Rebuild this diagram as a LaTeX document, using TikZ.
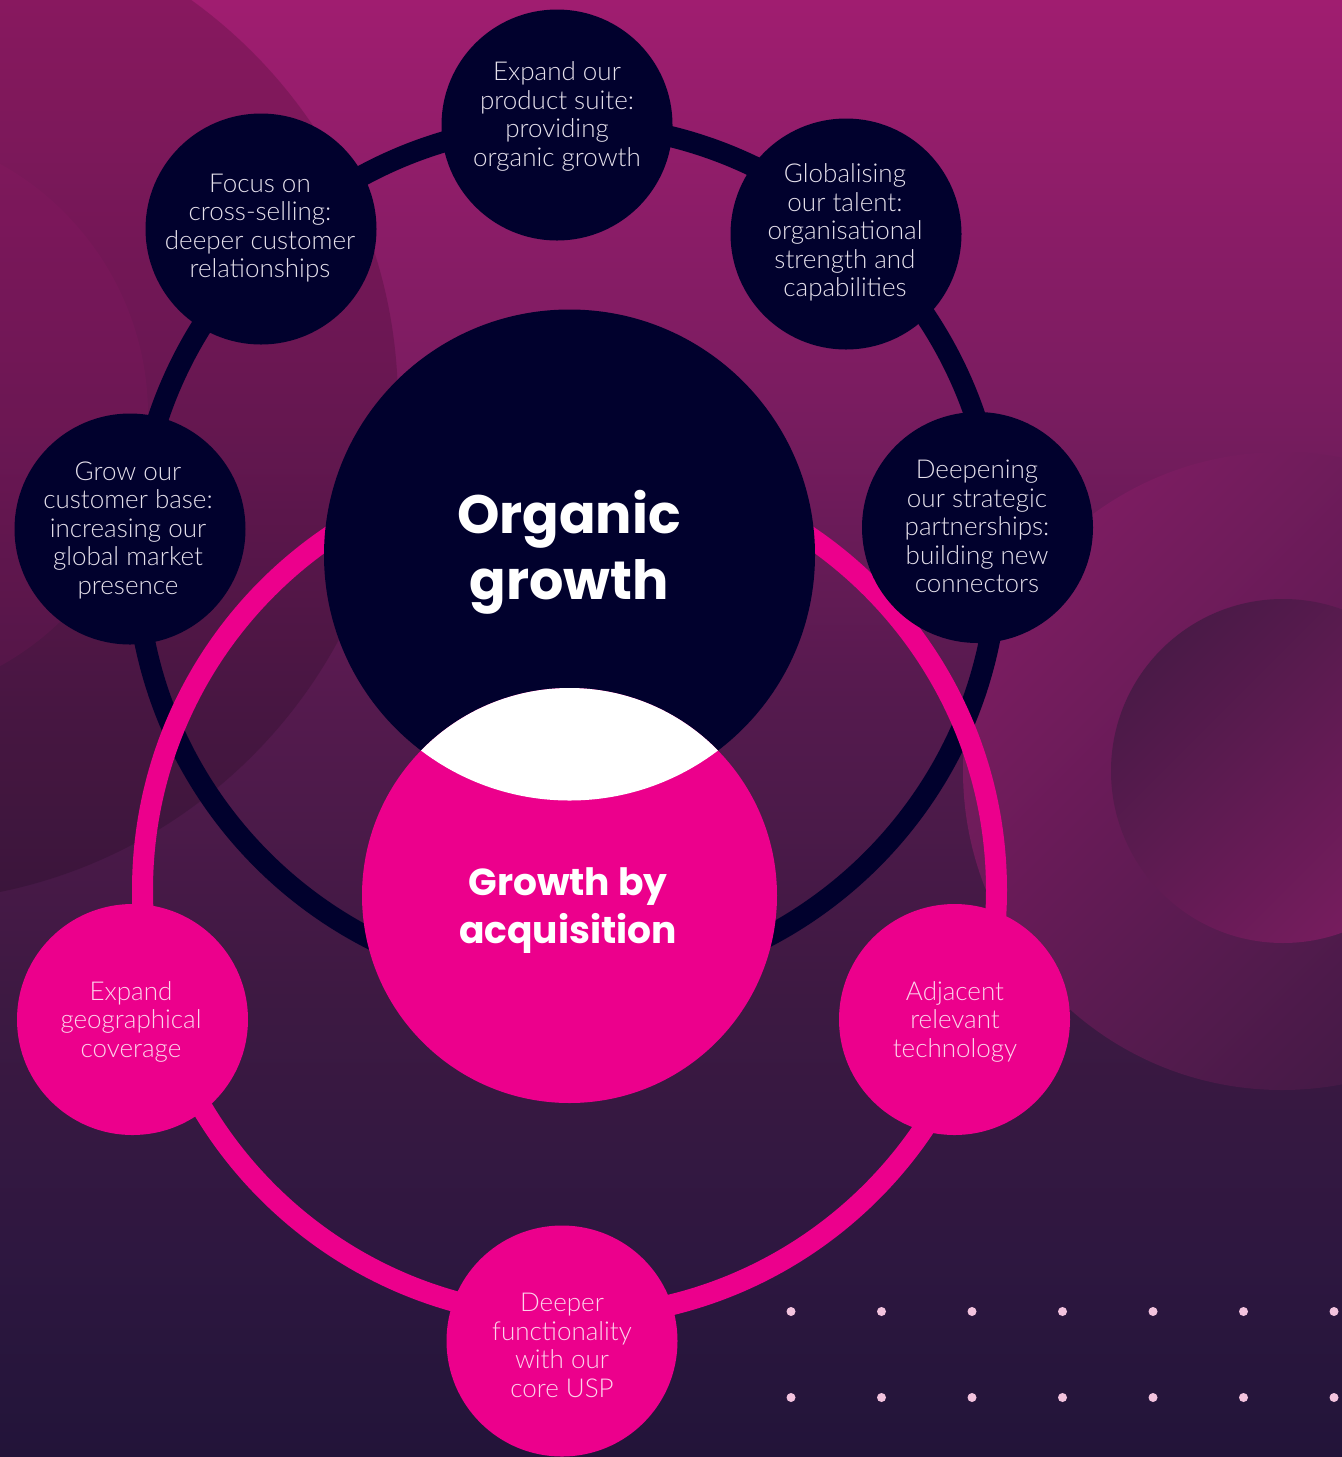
\documentclass[tikz,border=0pt]{standalone}
\usepackage{fontspec}
\newfontfamily\lightfont{Lato Light}
\newfontfamily\titlefont{Poppins Bold}
\definecolor{navy}{HTML}{01012D}
\definecolor{pinkc}{HTML}{EC008C}
\definecolor{txtlight}{HTML}{E6E1EC}
\definecolor{txtpink}{HTML}{FDD3EB}
\definecolor{dotc}{HTML}{F3C3DE}
\definecolor{bgA}{HTML}{A01D70}
\definecolor{bgB}{HTML}{7A1C60}
\definecolor{bgC}{HTML}{551A4E}
\definecolor{bgD}{HTML}{3D1942}
\definecolor{bgE}{HTML}{2E1740}
\definecolor{bgF}{HTML}{221439}
\definecolor{rcA}{HTML}{7C1C61}
\definecolor{rcB}{HTML}{401A44}
\definecolor{icA}{HTML}{4A1A47}
\definecolor{icB}{HTML}{781C5F}
\pgfdeclareverticalshading{bgshade}{100bp}{color(0bp)=(bgF); color(25bp)=(bgF); color(32.1bp)=(bgE); color(40.7bp)=(bgD); color(51bp)=(bgC); color(61.3bp)=(bgB); color(75bp)=(bgA); color(100bp)=(bgA)}
\newcommand{\ls}{\rule[-0.25em]{0pt}{1em}}
\begin{document}
\begin{tikzpicture}[x=0.5pt,y=-0.5pt,
  darknode/.style={circle, fill=navy, minimum size=115.5pt, inner sep=0pt},
  pinknode/.style={circle, fill=pinkc, minimum size=115.5pt, inner sep=0pt},
  smalltxt/.style={align=center, inner sep=0pt, font=\lightfont\fontsize{13pt}{14.25pt}\selectfont},
  darktxt/.style={smalltxt, text=txtlight},
  pinktxt/.style={smalltxt, text=txtpink},
  bigtitle/.style={align=center, inner sep=0pt, text=white, font=\titlefont\fontsize{27pt}{32.75pt}\selectfont},
  midtitle/.style={align=center, inner sep=0pt, text=white, font=\titlefont\fontsize{18.8pt}{24pt}\selectfont},
  ringline/.style={line width=10.5pt}
]
\useasboundingbox (0,0) rectangle (1342,1457);
% background
\shade[shading=bgshade] (0,0) rectangle (1342,1457);
\begin{scope}
\clip (0,0) rectangle (1342,1457);
% left decorative circles
\fill[black, opacity=0.15] (-100,404) circle (498);
\fill[bgA, opacity=0.12] (-139,415) circle (287);
% right decorative circles
\shade[top color=rcA, bottom color=rcB, shading angle=45] (1282,771) circle (319);
\shade[top color=icA, bottom color=icB, shading angle=45] (1283,771) circle (172);
\end{scope}
% rings
\draw[navy, ringline] (567,555) circle (431);
\draw[pinkc, ringline] (569.5,890) circle (427);
% big circles
\node[circle, fill=navy, minimum size=245.5pt, inner sep=0pt] (og) at (569.5,555) {};
\node[circle, fill=pinkc, minimum size=207.5pt, inner sep=0pt] (ga) at (569.5,895.5) {};
\begin{scope}
\clip (ga.center) circle (207.5);
\fill[white] (og.center) circle (245.5);
\end{scope}
\node[bigtitle] (ogt) at (569,552.5) {\ls Organic\\\ls growth};
\node[midtitle] (gat) at (568,910) {\ls Growth by\\\ls acquisition};
% dark nodes
\node[darknode] (n1) at (557,125) {};
\node[darknode] (n2) at (261,229) {};
\node[darknode] (n3) at (846,234) {};
\node[darknode] (n4) at (130,529) {};
\node[darknode] (n5) at (977.5,527.5) {};
\node[darktxt] (t1) at (557,117) {\ls Expand our\\\ls product suite:\\\ls providing\\\ls organic growth};
\node[darktxt] (t2) at (260,228.5) {\ls Focus on\\\ls cross-selling:\\\ls deeper customer\\\ls relationships};
\node[darktxt] (t3) at (845,233) {\ls Globalising\\\ls our talent:\\\ls organisational\\\ls strength and\\\ls capabilities};
\node[darktxt] (t4) at (128,530.5) {\ls Grow our\\\ls customer base:\\\ls increasing our\\\ls global market\\\ls presence};
\node[darktxt] (t5) at (977,529) {\ls Deepening\\\ls our strategic\\\ls partnerships:\\\ls building new\\\ls connectors};
% pink nodes
\node[pinknode] (p1) at (132.5,1019.5) {};
\node[pinknode] (p2) at (954.5,1019.5) {};
\node[pinknode] (p3) at (562,1341) {};
\node[pinktxt] (t6) at (131,1022) {\ls Expand\\\ls geographical\\\ls coverage};
\node[pinktxt] (t7) at (955,1022) {\ls Adjacent\\\ls relevant\\\ls technology};
\node[pinktxt] (t8) at (562,1348) {\ls Deeper\\\ls functionality\\\ls with our\\\ls core USP};
% dots
\foreach \xx in {791,881.5,972,1062.5,1153,1243.5,1334} {
  \foreach \yy in {1311.5,1397.5} {
    \fill[dotc] (\xx,\yy) circle (4.5);
  }
}
\end{tikzpicture}
\end{document}
